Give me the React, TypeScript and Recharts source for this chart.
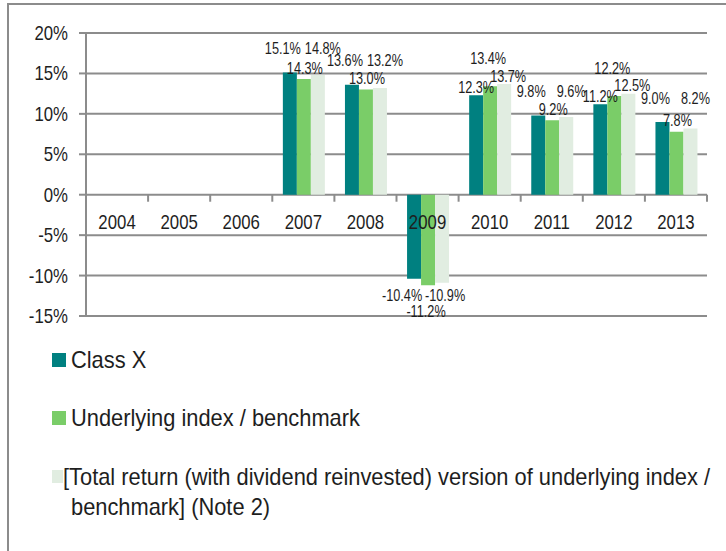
import React from 'react';
import { BarChart, Bar, XAxis, YAxis, CartesianGrid, LabelList, Legend } from 'recharts';

const YEARS = ['2004', '2005', '2006', '2007', '2008', '2009', '2010', '2011', '2012', '2013'];
const CLASS_X = [null, null, null, 15.1, 13.6, -10.4, 12.3, 9.8, 11.2, 9.0];
const UNDERLYING = [null, null, null, 14.3, 13.0, -11.2, 13.4, 9.2, 12.2, 7.8];
const TOTAL_RETURN = [null, null, null, 14.8, 13.2, -10.9, 13.7, 9.6, 12.5, 8.2];
const Y_TICKS = [-15, -10, -5, 0, 5, 10, 15, 20];

const SERIES = [
  { key: 'classX', name: 'Class X', color: '#008080' },
  { key: 'underlying', name: 'Underlying index / benchmark', color: '#7ACD68' },
  { key: 'total', name: '[Total return (with dividend reinvested) version of underlying index /', name2: 'benchmark] (Note 2)', color: '#E1EDE1' },
];

const data = YEARS.map((year, i) => ({
  year,
  classX: CLASS_X[i],
  underlying: UNDERLYING[i],
  total: TOTAL_RETURN[i],
}));

const FONT = '"Liberation Sans", Arial, sans-serif';
const W = 726;
const H = 551;
const M_TOP = 33;
const M_RIGHT = 19;
const Y_AXIS_W = 86;
const X_AXIS_H = 30;
const M_BOTTOM = 205;
const PLOT_H = H - M_TOP - M_BOTTOM - X_AXIS_H;
const PLOT_W = W - Y_AXIS_W - M_RIGHT;
const Y_MIN = -15;
const Y_MAX = 20;
const PX = PLOT_H / (Y_MAX - Y_MIN);
const GRID = '#8c8c8c';
const TEXT = '#1e1e1e';

const NarrowText = ({ x, y, anchor, size, scale, children }: any) => (
  <text
    transform={`translate(${x} ${y}) scale(${scale} 1)`}
    textAnchor={anchor}
    dominantBaseline="central"
    fontSize={size}
    fill={TEXT}
    fontFamily={FONT}
  >
    {children}
  </text>
);

const XTick = (props: any) => {
  const { x, y, payload, index } = props;
  const y0 = y - PX * (0 - Y_MIN);
  const bw = PLOT_W / YEARS.length;
  return (
    <g>
      <line x1={x - bw / 2} x2={x - bw / 2} y1={y0} y2={y0 + 7} stroke={GRID} strokeWidth={2} />
      {index === YEARS.length - 1 && (
        <line x1={x + bw / 2} x2={x + bw / 2} y1={y0} y2={y0 + 7} stroke={GRID} strokeWidth={2} />
      )}
      <NarrowText x={x} y={y0 + 27} anchor="middle" size={20} scale={0.84}>
        {payload.value}
      </NarrowText>
    </g>
  );
};

const YTick = (props: any) => {
  const { x, y, payload } = props;
  return (
    <NarrowText x={x} y={y} anchor="end" size={20} scale={0.84}>
      {`${payload.value}%`}
    </NarrowText>
  );
};

const X_SHIFT_LOW_GREEN = [-7, 1, 5];
const X_SHIFT_HIGH_GREEN = [0, -2, 4];
const X_SHIFT_NEG = [-12, -2, 3];

const makeLabel = (s: number) => (props: any) => {
  const { x, y, width, height, value } = props;
  if (value === null || value === undefined) return null;
  const v = Number(value);
  const bw = PLOT_W / YEARS.length;
  const idx = Math.floor((x + width / 2 - Y_AXIS_W) / bw);
  const c = CLASS_X[idx] as number;
  const g = UNDERLYING[idx] as number;
  const t = TOTAL_RETURN[idx] as number;
  const top = Math.min(y, y + height);
  const bottom = Math.max(y, y + height);
  let cy: number;
  let shift: number;
  if (v >= 0) {
    const topOf = (val: number) => top - (val - v) * PX;
    if (g <= c) {
      cy = s === 1 ? topOf(g) - 11 : Math.min(topOf(c), topOf(t)) - 24;
      shift = X_SHIFT_LOW_GREEN[s];
    } else {
      cy = s === 1 ? topOf(g) - 28 : top - 8;
      shift = X_SHIFT_HIGH_GREEN[s];
    }
  } else {
    const bottomOf = (val: number) => bottom + (v - val) * PX;
    cy = s === 1 ? bottomOf(g) + 26 : Math.max(bottomOf(c), bottomOf(t)) + 13;
    shift = X_SHIFT_NEG[s];
  }
  return (
    <NarrowText x={x + width / 2 + shift} y={cy} anchor="middle" size={16.3} scale={0.78}>
      {`${v.toFixed(1)}%`}
    </NarrowText>
  );
};

const LegendContent = () => {
  const rowStyle: React.CSSProperties = {
    position: 'absolute',
    left: 0,
    fontFamily: FONT,
    fontSize: 24,
    lineHeight: '30px',
    color: TEXT,
    whiteSpace: 'nowrap',
  };
  const txt = (left: number, top = 0): React.CSSProperties => ({
    position: 'absolute',
    left,
    top,
    transform: 'scaleX(0.91)',
    transformOrigin: 'left center',
  });
  return (
    <div style={{ position: 'relative', width: W, height: 200 }}>
      <div style={{ ...rowStyle, top: 5 }}>
        <span style={{ position: 'absolute', left: 52, top: 8, width: 14, height: 14, background: SERIES[0].color }} />
        <span style={txt(71)}>{SERIES[0].name}</span>
      </div>
      <div style={{ ...rowStyle, top: 63 }}>
        <span style={{ position: 'absolute', left: 52, top: 8, width: 14, height: 14, background: SERIES[1].color }} />
        <span style={txt(71)}>{SERIES[1].name}</span>
      </div>
      <div style={{ ...rowStyle, top: 122 }}>
        <span style={{ position: 'absolute', left: 52, top: 8, width: 11, height: 13, background: SERIES[2].color }} />
        <span style={txt(63)}>{SERIES[2].name}</span>
        <span style={txt(71, 30)}>{SERIES[2].name2}</span>
      </div>
    </div>
  );
};

export default function App() {
  return (
    <div style={{ position: 'fixed', left: 0, top: 0, width: W, height: H, overflow: 'hidden', background: '#fff' }}>
      <div style={{ position: 'absolute', left: 7, top: 3, width: 800, height: 700, border: `2px solid ${GRID}` }} />
      <div style={{ position: 'absolute', left: 0, top: 0 }}>
        <BarChart
          width={W}
          height={H}
          data={data}
          margin={{ top: M_TOP, right: M_RIGHT, left: 0, bottom: M_BOTTOM }}
          barCategoryGap="17%"
          barGap={0}
        >
          <CartesianGrid vertical={false} stroke={GRID} strokeWidth={2} />
          <XAxis
            dataKey="year"
            height={X_AXIS_H}
            axisLine={false}
            tickLine={false}
            tickSize={0}
            tickMargin={0}
            interval={0}
            tick={<XTick />}
          />
          <YAxis
            width={Y_AXIS_W}
            domain={[Y_MIN, Y_MAX]}
            ticks={Y_TICKS}
            allowDataOverflow
            axisLine={{ stroke: GRID, strokeWidth: 2 }}
            tickLine={{ stroke: GRID, strokeWidth: 2 }}
            tickSize={7}
            tickMargin={11}
            tick={<YTick />}
          />
          {SERIES.map((s, i) => (
            <Bar key={s.key} dataKey={s.key} name={s.name} fill={s.color} isAnimationActive={false}>
              <LabelList dataKey={s.key} content={makeLabel(i)} />
            </Bar>
          ))}
          <Legend
            layout="horizontal"
            verticalAlign="middle"
            align="center"
            content={<LegendContent />}
            wrapperStyle={{ position: 'absolute', left: 0, top: 340, width: W, height: 200 }}
          />
        </BarChart>
      </div>
    </div>
  );
}
